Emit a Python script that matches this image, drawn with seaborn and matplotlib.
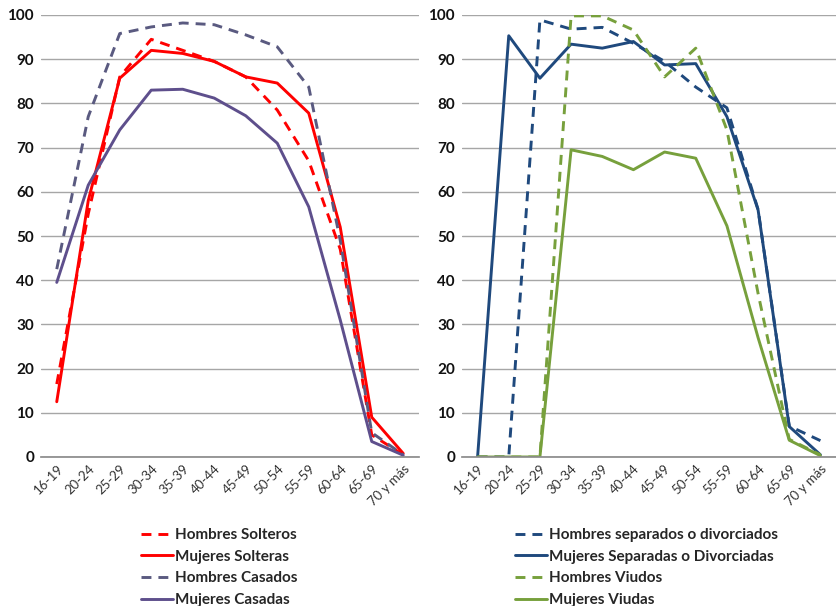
import matplotlib
matplotlib.use("Agg")
import matplotlib.pyplot as plt
import seaborn as sns
import pandas as pd

# grupos de edad
edades = ["16-19", "20-24", "25-29", "30-34", "35-39", "40-44",
          "45-49", "50-54", "55-59", "60-64", "65-69", "70 y más"]

# panel izquierdo
hombres_solteros = [16.5, 55, 86, 94.5, 92, 89.5, 86, 78.5, 67, 47, 5, 0.5]
mujeres_solteras = [12.5, 58, 85.7, 92, 91.3, 89.5, 86, 84.6, 77.8, 52, 9, 0.8]
hombres_casados = [42.5, 77, 95.8, 97.3, 98.2, 97.8, 95.5, 92.8, 83.7, 49, 5.5, 0.5]
mujeres_casadas = [39.5, 61.5, 74, 83, 83.2, 81.2, 77.2, 71, 56.6, 31, 3.5, 0.4]

# panel derecho
hombres_separados = [0, 0, 98.9, 96.8, 97.2, 93.6, 89.5, 83.7, 79, 56, 7, 3.7]
mujeres_separadas = [0, 95.3, 85.7, 93.4, 92.5, 94, 88.7, 89, 77, 55.9, 6.9, 0.5]
hombres_viudos = [0, 0, 0, 99.8, 99.8, 96.6, 86, 92.5, 74, 37, 4, 0.5]
mujeres_viudas = [0, 0, 0, 69.5, 68, 65, 69, 67.6, 52.3, 27, 3.8, 0.3]

sns.set_theme(style="white")
plt.rcParams["font.family"] = ["Lato", "DejaVu Sans"]

ROJO = "#ff0000"
MORADO_D = "#5a5a80"
MORADO = "#5e4f8c"
AZUL = "#1f497d"
VERDE = "#77a03c"
DASH = (0, (3.4, 2.4))

fig = plt.figure(figsize=(8.36, 6.06), dpi=100)
ax1 = fig.add_axes([41 / 836, 1 - 457 / 606, 378 / 836, 442 / 606])
ax2 = fig.add_axes([462 / 836, 1 - 457 / 606, 374 / 836, 442 / 606])

series_izq = [
    ("Hombres Solteros", hombres_solteros, ROJO, DASH),
    ("Mujeres Solteras", mujeres_solteras, ROJO, "-"),
    ("Hombres Casados", hombres_casados, MORADO_D, DASH),
    ("Mujeres Casadas", mujeres_casadas, MORADO, "-"),
]
series_der = [
    ("Hombres separados o divorciados", hombres_separados, AZUL, DASH),
    ("Mujeres Separadas o Divorciadas", mujeres_separadas, AZUL, "-"),
    ("Hombres Viudos", hombres_viudos, VERDE, DASH),
    ("Mujeres Viudas", mujeres_viudas, VERDE, "-"),
]

for ax, series, leg_x in [(ax1, series_izq, 135), (ax2, series_der, 509)]:
    for nombre, valores, color, ls in series:
        df = pd.DataFrame({"edad": edades, "valor": valores})
        sns.lineplot(data=df, x="edad", y="valor", ax=ax, color=color,
                     linestyle=ls, linewidth=2.1, label=nombre, sort=False)
    ax.set_xlim(-0.5, 11.5)
    ax.set_ylim(0, 100)
    ax.set_yticks(range(0, 101, 10))
    ax.yaxis.grid(True, color="#a6a6a6", linewidth=1.0)
    ax.set_axisbelow(True)
    for s in ["top", "right", "left"]:
        ax.spines[s].set_visible(False)
    ax.spines["bottom"].set_color("#8c8c8c")
    ax.set_xlabel("")
    ax.set_ylabel("")
    ax.tick_params(axis="y", length=0, pad=5, labelsize=11, labelcolor="#111111")
    for t in ax.get_yticklabels():
        t.set_fontweight("bold")
    ax.tick_params(axis="x", length=0, pad=4, labelsize=9.5, labelcolor="#333333")
    ax.set_xticks(range(len(edades)))
    ax.set_xticklabels(edades, rotation=45, ha="right", rotation_mode="anchor")
    handles, labels = ax.get_legend_handles_labels()
    ax.legend_.remove()
    fig.legend(handles, labels, loc="upper left",
               bbox_to_anchor=(leg_x / 836, 1 - 522 / 606), frameon=False,
               handlelength=2.1, handletextpad=0.15, labelspacing=0.5,
               prop={"size": 11, "weight": "bold"}, borderaxespad=0)

fig.savefig("out.png", dpi=100)
